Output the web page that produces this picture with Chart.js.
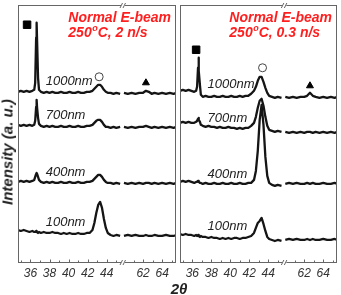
<!DOCTYPE html>
<html>
<head>
<meta charset="utf-8">
<script src="https://cdn.jsdelivr.net/npm/chart.js@4.4.1/dist/chart.umd.min.js"></script>
<style>
  body { margin: 0; background: #fff; }
  #fig { position: relative; width: 341px; height: 295px; font-family: "Liberation Sans", Arial, sans-serif; color: #222; }
  #fast { position: absolute; left: 0; top: 0; }
  #slow { position: absolute; left: 178px; top: 0; }
  .ytitle { position: absolute; left: 7px; top: 152px; transform: translate(-50%, -50%) rotate(-90deg);
            white-space: nowrap; font: italic bold 15px "Liberation Sans", Arial, sans-serif; }
  .xtitle { position: absolute; left: 179px; top: 288px; transform: translate(-50%, -50%);
            white-space: nowrap; font: italic bold 15px "Liberation Sans", Arial, sans-serif; }
</style>
</head>
<body>
<div id="fig">
  <canvas id="fast" width="178" height="295"></canvas>
  <canvas id="slow" width="163" height="295"></canvas>
  <div class="ytitle">Intensity (a. u.)</div>
  <div class="xtitle">2θ</div>
</div>
<script>
// 2theta sampling, below and above the axis break
const twoThetaLow = [34.7, 35.0, 35.3, 35.6, 35.9, 36.2, 36.4, 36.5, 36.6, 36.65, 36.7, 36.8, 36.9, 37.1, 37.4, 37.7,
  38.0, 38.3, 38.6, 38.9, 39.2, 39.5, 39.8, 40.1, 40.4, 40.7, 41.0, 41.3, 41.6, 41.9, 42.2, 42.5, 42.7, 42.9,
  43.1, 43.3, 43.5, 43.7, 43.9, 44.1, 44.4, 44.7, 45.0, 45.4];
const twoThetaHigh = [60.0, 60.4, 60.8, 61.2, 61.6, 62.0, 62.3, 62.6, 62.9, 63.2, 63.6, 64.0, 64.4, 64.8, 65.2, 65.5];

const thicknesses = ['1000nm', '700nm', '400nm', '100nm'];
const tickLow = [36, 38, 40, 42, 44];
const tickHigh = [62, 64];
const minorLow = [35, 37, 39, 41, 43, 45];
const minorHigh = [61, 63, 65];

// left panel: 250 C, 2 n/s (stacked, arbitrary units)
const fast1000Low = [171,172,171,172,171,172,173,180,225,240,222,185,173,171,170,171,170,171,170,170,171,170,170,171,170,170,171,170,170,171,171,172,174,176,178,178,176,173,171,170,170,169,170,169];
const fast1000High = [170,169,170,169,170,170,172,171,169,170,169,170,169,170,169,170];
const fast700Low = [138,137,138,137,138,137,138,142,156,163,155,145,139,137,136,137,136,137,136,136,137,136,136,137,136,136,137,136,136,137,137,138,140,142,143,143,141,138,136,136,135,136,135,136];
const fast700High = [136,135,136,135,136,136,137,136,135,136,135,136,135,136,135,136];
const fast400Low = [81,82,81,82,81,82,83,86,89,90,89,86,83,81,80,81,80,81,80,80,81,80,80,81,80,80,81,80,80,81,81,82,84,86,88,88,86,83,81,80,80,79,80,79];
const fast400High = [80,79,80,79,80,79,80,80,79,80,79,80,79,80,79,80];
const fast100Low = [33,32,33,32,31,32,31,31,32,31,31,30,31,30,31,30,30,31,30,30,29,30,29,30,29,29,30,29,29,30,30,33,40,50,58,61,55,44,35,30,28,27,28,27];
const fast100High = [27,28,27,28,27,27,28,27,27,28,27,27,28,27,27,28];

// right panel: 250 C, 0.3 n/s
const slow1000Low = [172,173,172,173,172,171,172,176,195,205,192,178,168,166,167,166,166,167,166,166,167,166,166,167,166,166,167,166,167,167,169,172,176,182,186,186,181,175,170,167,166,165,166,165];
const slow1000High = [166,165,166,165,166,166,167,170,167,166,165,166,165,166,165,166];
const slow700Low = [140,141,140,141,140,140,141,142,144,145,143,141,138,137,136,137,136,136,135,136,135,135,136,135,135,134,135,134,135,135,137,140,146,155,162,164,157,146,137,133,132,131,132,131];
const slow700High = [131,130,131,130,131,130,131,131,130,131,130,131,130,131,130,131];
const slow400Low = [81,82,81,82,81,80,81,81,82,82,81,80,80,79,80,79,79,80,79,79,80,79,79,80,79,79,80,79,79,80,80,83,92,112,143,158,138,106,87,80,78,77,78,77];
const slow400High = [79,80,79,80,79,79,80,79,80,79,79,80,79,79,80,79];
const slow100Low = [29,28,29,28,28,27,28,27,28,27,27,26,27,26,26,25,26,25,25,24,25,24,25,24,25,25,24,25,25,26,27,30,35,40,42,45,39,32,26,24,23,22,23,22];
const slow100High = [23,24,23,24,23,23,24,23,24,23,23,24,23,23,24,23];

// phase markers: square, circle, triangle
const markerStyles = ['rect', 'circle', 'triangle'];
const fastMarkerTheta = [35.65, 43.2, 62.3];
const fastMarkerLevel = [238, 186, 180];
const slowMarkerTheta = [36.4, 43.4, 62.6];
const slowMarkerLevel = [213, 195, 177];

const labelTheta = 37.6;
const fastLabelLevel = [181.7, 147.7, 90.4, 41];
const slowLabelLevel = [178.7, 144.4, 88.4, 36.7];

// broken axis: values above the break are shifted left
const AXIS_MIN = 34.7, AXIS_MAX = 51.25, BREAK_AT = 45.7, SHIFT = 14.2;
const compress = t => t > 50 ? t - SHIFT : t;
const expand = v => v > BREAK_AT ? v + SHIFT : v;

function curve(low, high) {
  const pts = twoThetaLow.map((t, i) => ({x: compress(t), y: low[i]}));
  pts.push({x: BREAK_AT, y: null});
  twoThetaHigh.forEach((t, i) => pts.push({x: compress(t), y: high[i]}));
  return pts;
}

const panelDecor = {
  id: 'panelDecor',
  afterDraw(chart, args, opts) {
    const {ctx, chartArea: a, scales: {x, y}} = chart;
    const L = Math.round(a.left) + 0.5, R = Math.round(a.right) - 0.5;
    const T = Math.round(a.top) + 0.5, B = Math.round(a.bottom) - 0.5;
    ctx.save();
    ctx.strokeStyle = '#666';
    ctx.lineWidth = 1;
    ctx.strokeRect(L, T, R - L, B - T);

    const tick = (t, len) => {
      const px = Math.round(x.getPixelForValue(compress(t))) + 0.5;
      ctx.beginPath(); ctx.moveTo(px, B); ctx.lineTo(px, B - len); ctx.stroke();
    };
    tickLow.concat(tickHigh).forEach(t => tick(t, 3));
    minorLow.concat(minorHigh).forEach(t => tick(t, 2));

    // break marks on top and bottom axes
    const bx = x.getPixelForValue(BREAK_AT);
    [T, B].forEach(yy => {
      ctx.fillStyle = '#fff';
      ctx.fillRect(bx - 2, yy - 1.5, 4, 3);
      ctx.beginPath();
      ctx.moveTo(bx - 3, yy + 2.5); ctx.lineTo(bx - 0.5, yy - 2.5);
      ctx.moveTo(bx, yy + 2.5); ctx.lineTo(bx + 2.5, yy - 2.5);
      ctx.stroke();
    });

    // thickness labels
    ctx.fillStyle = '#222';
    ctx.font = 'italic 13px "Liberation Sans", Arial, sans-serif';
    ctx.textBaseline = 'middle';
    ctx.textAlign = 'left';
    thicknesses.forEach((name, i) => {
      ctx.fillText(name, x.getPixelForValue(labelTheta), y.getPixelForValue(opts.labelLevel[i]));
    });

    // red condition note
    ctx.fillStyle = '#ff1f1f';
    ctx.font = 'italic bold 14px "Liberation Sans", Arial, sans-serif';
    const line1 = 'Normal E-beam';
    const x0 = a.right - 5 - ctx.measureText(line1).width;
    ctx.fillText(line1, x0, a.top + 13);
    let cx = x0;
    const y2 = a.top + 28;
    ctx.fillText('250', cx, y2);
    cx += ctx.measureText('250').width;
    ctx.font = 'italic bold 9px "Liberation Sans", Arial, sans-serif';
    ctx.fillText('o', cx + 0.5, y2 - 4);
    cx += ctx.measureText('o').width + 0.5;
    ctx.font = 'italic bold 14px "Liberation Sans", Arial, sans-serif';
    ctx.fillText('C, ' + opts.rate, cx, y2);
    ctx.restore();
  }
};

function makePanel(id, series, markerTheta, markerLevel, labelLevel, rate, padLeft, padRight) {
  const datasets = series.map(([low, high]) => ({
    data: curve(low, high),
    borderColor: '#151515',
    borderWidth: 2.3,
    borderJoinStyle: 'round',
    pointRadius: 0,
    tension: 0,
    spanGaps: false
  }));
  datasets.push({
    data: markerTheta.map((t, i) => ({x: compress(t), y: markerLevel[i]})),
    showLine: false,
    pointStyle: markerStyles,
    pointRadius: [5.3, 4, 4],
    pointBackgroundColor: ['#000', '#fff', '#000'],
    pointBorderColor: ['#000', '#444', '#000'],
    pointBorderWidth: 1
  });

  new Chart(document.getElementById(id), {
    type: 'line',
    data: {datasets},
    plugins: [panelDecor],
    options: {
      responsive: false,
      animation: false,
      devicePixelRatio: 1,
      layout: {autoPadding: false, padding: {left: padLeft, right: padRight, top: 5, bottom: 0}},
      plugins: {
        legend: {display: false},
        tooltip: {enabled: false},
        panelDecor: {labelLevel, rate}
      },
      scales: {
        x: {
          type: 'linear',
          min: AXIS_MIN,
          max: AXIS_MAX,
          grid: {display: false, drawTicks: false},
          border: {display: false},
          afterBuildTicks: s => { s.ticks = tickLow.concat(tickHigh).map(t => ({value: compress(t)})); },
          afterFit: s => { s.height = 32; s.paddingLeft = 0; s.paddingRight = 0; },
          ticks: {
            padding: 3,
            maxRotation: 0,
            autoSkip: false,
            color: '#333',
            font: {family: '"Liberation Sans", Arial, sans-serif', size: 12, style: 'italic'},
            callback: v => String(Math.round(expand(v)))
          }
        },
        y: {display: false, min: 0, max: 257.7}
      }
    }
  });
}

makePanel('fast',
  [[fast1000Low, fast1000High], [fast700Low, fast700High], [fast400Low, fast400High], [fast100Low, fast100High]],
  fastMarkerTheta, fastMarkerLevel, fastLabelLevel, '2 n/s', 18, 2);
makePanel('slow',
  [[slow1000Low, slow1000High], [slow700Low, slow700High], [slow400Low, slow400High], [slow100Low, slow100High]],
  slowMarkerTheta, slowMarkerLevel, slowLabelLevel, '0.3 n/s', 2, 4);
</script>
</body>
</html>
